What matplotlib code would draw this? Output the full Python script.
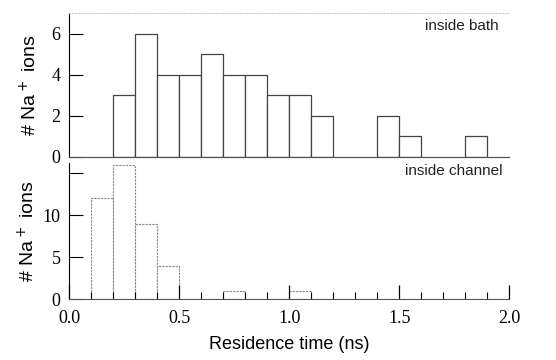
import numpy as np
import matplotlib.pyplot as plt

# bin left edges (ns) and counts, bin width 0.1 ns
bath_left = [0.2, 0.3, 0.4, 0.5, 0.6, 0.7, 0.8, 0.9, 1.0, 1.1, 1.4, 1.5, 1.8]
bath_count = [3, 6, 4, 4, 5, 4, 4, 3, 3, 2, 2, 1, 1]

chan_left = [0.1, 0.2, 0.3, 0.4, 0.7, 1.0]
chan_count = [12, 16, 9, 4, 1, 1]

serif = 'Liberation Serif'
sans = 'Liberation Sans'

fig = plt.figure(figsize=(5.56, 3.6), dpi=100)
ax1 = fig.add_axes([0.124, 0.564, 0.792, 0.400])
ax2 = fig.add_axes([0.124, 0.169, 0.792, 0.378])

# top panel: inside bath
ax1.bar(bath_left, bath_count, width=0.1, align='edge',
        facecolor='white', edgecolor='#444444', linewidth=0.9)
ax1.set_xlim(0, 2.0)
ax1.set_ylim(0, 7)
ax1.set_yticks([0, 2, 4, 6])
ax1.set_xticks([])
ax1.spines['right'].set_visible(False)
ax1.spines['top'].set_linestyle(':')
ax1.spines['top'].set_color('#cccccc')
ax1.spines['top'].set_linewidth(0.8)
ax1.spines['bottom'].set_color('#555555')
ax1.spines['bottom'].set_linewidth(0.9)
ax1.tick_params(axis='y', direction='in', length=10, width=0.8, pad=6)
ax1.text(0.975, 0.96, 'inside bath', transform=ax1.transAxes, ha='right', va='top',
         fontsize=11, family=sans, color='#222222')
ax1.set_ylabel('# Na$^+$ ions', fontsize=14, family=sans, labelpad=8)

# bottom panel: inside channel
ax2.bar(chan_left, chan_count, width=0.1, align='edge',
        facecolor='white', edgecolor='#888888', linewidth=0.8, linestyle=(0, (2, 1)))
ax2.set_xlim(0, 2.0)
ax2.set_ylim(0, 16.2)
ax2.set_yticks([0, 5, 10, 15])
ax2.set_yticklabels(['0', '5', '10', ''])
ax2.set_xticks([0.0, 0.5, 1.0, 1.5, 2.0])
ax2.set_xticklabels(['0.0', '0.5', '1.0', '1.5', '2.0'])
ax2.set_xticks(np.arange(0, 2.01, 0.1), minor=True)
ax2.spines['right'].set_visible(False)
ax2.spines['top'].set_visible(False)
ax2.spines['bottom'].set_color('#555555')
ax2.tick_params(axis='y', direction='in', length=10, width=0.8, pad=6)
ax2.tick_params(axis='x', which='major', direction='in', length=10, width=0.9, pad=8)
ax2.tick_params(axis='x', which='minor', direction='in', length=5, width=0.8)
ax2.text(0.985, 0.99, 'inside channel', transform=ax2.transAxes, ha='right', va='top',
         fontsize=11, family=sans, color='#222222')
ax2.set_ylabel('# Na$^+$ ions', fontsize=14, family=sans, labelpad=3)
ax2.set_xlabel('Residence time (ns)', fontsize=13, family=sans, labelpad=6)

for ax in (ax1, ax2):
    for lab in ax.get_xticklabels() + ax.get_yticklabels():
        lab.set_family(serif)
        lab.set_fontsize(13)

fig.savefig('out.png', dpi=100)
